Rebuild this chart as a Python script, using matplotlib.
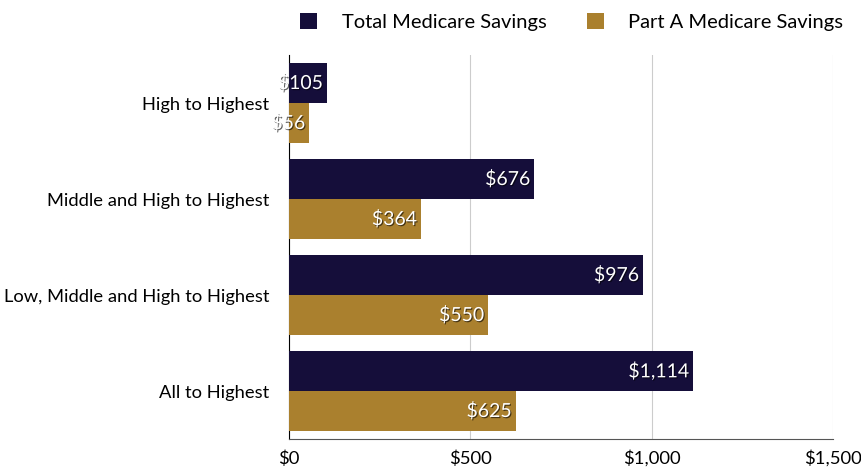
import matplotlib.pyplot as plt
import matplotlib.patheffects as pe
import numpy as np

categories = ['High to Highest', 'Middle and High to Highest',
              'Low, Middle and High to Highest', 'All to Highest']
total_savings = [105, 676, 976, 1114]
part_a_savings = [56, 364, 550, 625]
x_ticks = [0, 500, 1000, 1500]
x_tick_labels = ['$0', '$500', '$1,000', '$1,500']

navy = '#150e3a'
gold = '#aa802e'

plt.rcParams['font.family'] = ['Lato', 'DejaVu Sans']

fig = plt.figure(figsize=(8.61, 4.71), dpi=100)
ax = fig.add_axes([0.3357, 0.0679, 0.6318, 0.8153])

# top group first
y = np.arange(len(categories))[::-1]
h = 40 / 96

b1 = ax.barh(y + h / 2, total_savings, height=h, color=navy, label='Total Medicare Savings', zorder=3)
b2 = ax.barh(y - h / 2, part_a_savings, height=h, color=gold, label='Part A Medicare Savings', zorder=3)

shadow = [pe.withSimplePatchShadow(offset=(0.8, -0.8), shadow_rgbFace='black', alpha=0.6)]
for bars, vals in [(b1, total_savings), (b2, part_a_savings)]:
    for bar, v in zip(bars, vals):
        ax.annotate('${:,}'.format(v), (v, bar.get_y() + bar.get_height() / 2),
                    xytext=(-3, 0), textcoords='offset points', ha='right', va='center',
                    color='white', fontsize=14, zorder=5, path_effects=shadow,
                    annotation_clip=False)

ax.set_xlim(0, 1500)
ax.set_ylim(-0.5, 3.5)
ax.set_xticks(x_ticks)
ax.set_xticklabels(x_tick_labels, fontsize=13.3)
ax.set_yticks(y)
ax.set_yticklabels(categories, fontsize=13.2)
ax.tick_params(length=0)
ax.tick_params(axis='y', pad=14)
ax.tick_params(axis='x', pad=8)
ax.xaxis.grid(True, color='#cccccc', linewidth=0.8, zorder=0)
for s in ['top', 'right']:
    ax.spines[s].set_visible(False)
ax.spines['left'].set_color('black')
ax.spines['bottom'].set_color('#555555')

fig.legend(handles=[b1, b2], loc='upper right', bbox_to_anchor=(1.0, 1.01), ncol=2,
           frameon=False, fontsize=14.5, handlelength=0.85, handleheight=0.85,
           columnspacing=2.0, handletextpad=1.2)

fig.savefig('out.png', dpi=100)
